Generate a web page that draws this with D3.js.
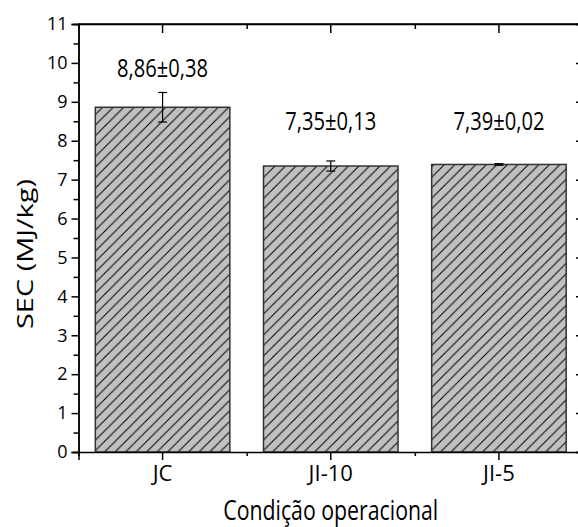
<!DOCTYPE html>
<html><head><meta charset="utf-8">
<script src="https://cdn.jsdelivr.net/npm/d3@7"></script>
<style>
html,body{margin:0;padding:0;background:#fff;}
svg{display:block;}
text{font-family:"Open Sans","DejaVu Sans",sans-serif;fill:#000;}
</style></head>
<body>
<script>
// ---- data ----
const categories = ["JC", "JI-10", "JI-5"];
const means = [8.86, 7.35, 7.39];
const errors = [0.38, 0.13, 0.02];
const valueLabels = ["8,86±0,38", "7,35±0,13", "7,39±0,02"];
const yTicks = [0,1,2,3,4,5,6,7,8,9,10,11];
const yMinorTicks = [0.5,1.5,2.5,3.5,4.5,5.5,6.5,7.5,8.5,9.5,10.5];
const yTitle = "SEC (MJ/kg)";
const xTitle = "Condição operacional";

// ---- layout ----
const W = 578, H = 527;
const L = 78.5, R = 583, T = 24, B = 452;
const labelBaseline = [9.64, 8.28, 8.28]; // label anchors (data units) as placed in reference

const svg = d3.select("body").append("svg").attr("width", W).attr("height", H);

const x = d3.scaleBand().domain(categories).range([L, R]).paddingInner(0.2).paddingOuter(0.1);
const y = d3.scaleLinear().domain([0, 11]).range([B, T]);
const boundaries = categories.map(c => x(c) - x.step() * x.paddingInner() / 2).concat([R]);

// hatch pattern
const hs = 10.5;
const pat = svg.append("defs").append("pattern")
  .attr("id", "hatch").attr("patternUnits", "userSpaceOnUse")
  .attr("width", hs).attr("height", hs);
pat.append("rect").attr("width", hs).attr("height", hs).attr("fill", "#c0c0c0");
pat.append("path")
  .attr("d", `M0,${hs} L${hs},0 M${-hs/2},${hs/2} L${hs/2},${-hs/2} M${hs/2},${hs*1.5} L${hs*1.5},${hs/2}`)
  .attr("stroke", "#000").attr("stroke-width", 1);

// bars
svg.append("g").selectAll("rect").data(categories).join("rect")
  .attr("x", d => x(d)).attr("width", x.bandwidth())
  .attr("y", (d, i) => y(means[i])).attr("height", (d, i) => y(0) - y(means[i]))
  .attr("fill", "url(#hatch)").attr("stroke", "#333").attr("stroke-width", 1.5);

// error bars
const eg = svg.append("g").attr("stroke", "#000").attr("stroke-width", 1.2);
categories.forEach((c, i) => {
  const cx = x(c) + x.bandwidth() / 2;
  eg.append("line").attr("x1", cx).attr("x2", cx).attr("y1", y(means[i] - errors[i])).attr("y2", y(means[i] + errors[i]));
  [means[i] - errors[i], means[i] + errors[i]].forEach(v => {
    eg.append("line").attr("x1", cx - 4.5).attr("x2", cx + 4.5).attr("y1", y(v)).attr("y2", y(v));
  });
});

// value labels
svg.append("g").selectAll("text").data(valueLabels).join("text")
  .attr("x", (d, i) => x(categories[i]) + x.bandwidth() / 2)
  .attr("y", (d, i) => y(labelBaseline[i]))
  .attr("text-anchor", "middle").attr("font-size", 25)
  .attr("textLength", 91).attr("lengthAdjust", "spacingAndGlyphs")
  .text(d => d);

function styleAxis(g) {
  g.selectAll("path,line").attr("stroke", "#000").attr("stroke-width", 1.5);
}

// left axis
svg.append("g").attr("transform", `translate(${L},0)`)
  .call(d3.axisLeft(y).tickValues(yTicks).tickSize(7).tickPadding(4).tickFormat(d3.format("d")))
  .call(g => g.selectAll("text").attr("font-size", 18).attr("font-family", "Open Sans"))
  .call(styleAxis);
svg.append("g").attr("transform", `translate(${L},0)`)
  .call(d3.axisLeft(y).tickValues(yMinorTicks).tickSize(5).tickFormat(""))
  .call(styleAxis);
// right axis (ticks inward)
svg.append("g").attr("transform", `translate(${R},0)`)
  .call(d3.axisLeft(y).tickValues(yTicks).tickSize(7).tickFormat(""))
  .call(styleAxis);

// bottom axis
svg.append("g").attr("transform", `translate(0,${B})`)
  .call(d3.axisBottom(x).tickSize(8).tickPadding(5))
  .call(g => g.selectAll("text").attr("font-size", 22).attr("font-family", "Open Sans"))
  .call(styleAxis);
svg.append("g").attr("transform", `translate(0,${B})`)
  .call(d3.axisBottom(d3.scaleLinear().domain([L, R]).range([L, R])).tickValues(boundaries).tickSize(4).tickFormat(""))
  .call(g => g.select(".domain").remove())
  .call(styleAxis);
// top axis (ticks inward)
svg.append("g").attr("transform", `translate(0,${T})`)
  .call(d3.axisBottom(x).tickSize(9).tickFormat(""))
  .call(g => g.select(".domain").remove())
  .call(styleAxis);
svg.append("g").attr("transform", `translate(0,${T})`)
  .call(d3.axisBottom(d3.scaleLinear().domain([L, R]).range([L, R])).tickValues(boundaries).tickSize(5).tickFormat(""))
  .call(styleAxis);
svg.append("line").attr("x1", L).attr("x2", R).attr("y1", T).attr("y2", T)
  .attr("stroke", "#000").attr("stroke-width", 1.5);

// axis titles
svg.append("text").attr("transform", `translate(33,${(T + B) / 2 + 16}) rotate(-90)`)
  .attr("text-anchor", "middle").attr("font-size", 22)
  .attr("textLength", 150).attr("lengthAdjust", "spacingAndGlyphs")
  .text(yTitle);
svg.append("text").attr("x", (L + R) / 2).attr("y", 520)
  .attr("text-anchor", "middle").attr("font-size", 27)
  .attr("textLength", 215).attr("lengthAdjust", "spacingAndGlyphs")
  .text(xTitle);
</script>
</body></html>
